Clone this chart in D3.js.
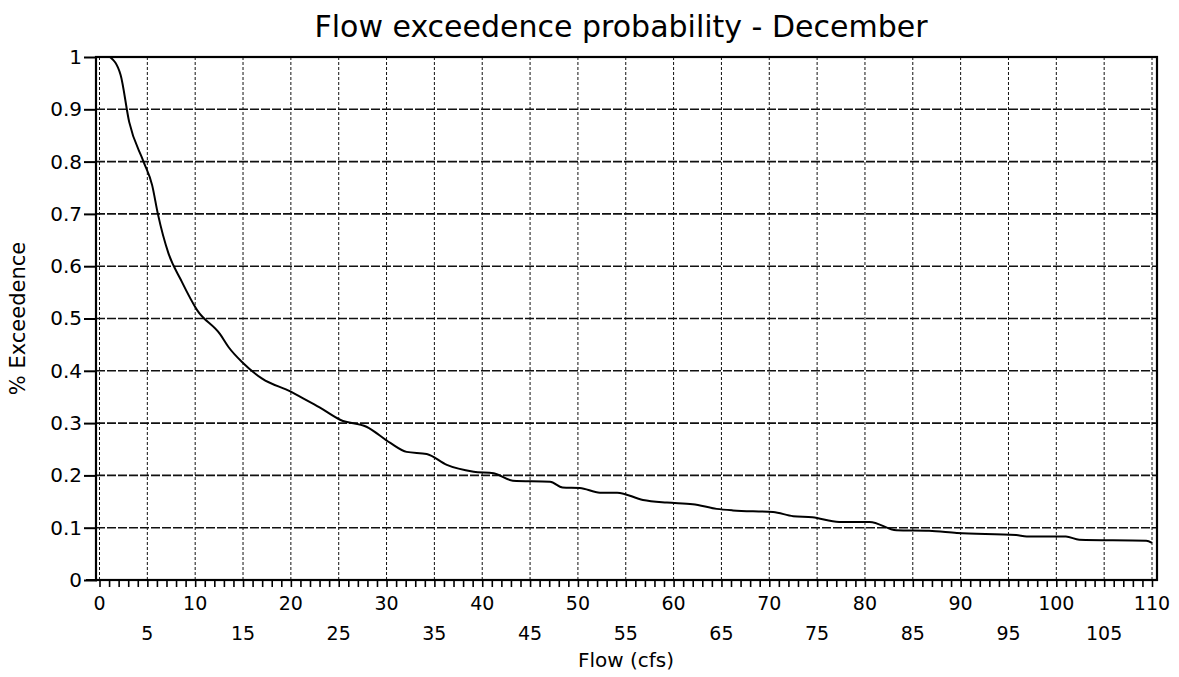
<!DOCTYPE html>
<html>
<head>
<meta charset="utf-8">
<script src="https://cdn.jsdelivr.net/npm/d3@7"></script>
<style>
  body { margin: 0; background: #fff; }
  svg { display: block; font-family: "DejaVu Sans", sans-serif; }
</style>
</head>
<body>
<div id="container"></div>
<script>
// chart values
const flowCfs = [1.1, 2.2, 3.1, 4.6, 5.5, 6.1, 7.2, 8.5, 10.2, 12.6, 13.5, 15, 17, 20, 21, 23,
  25.2, 27.9, 30.4, 32.1, 34.2, 36.3, 39.1, 41.2, 43.2, 47.1, 48.4, 50.2, 52.3, 54.1, 56.8,
  59.3, 62, 64.5, 66.2, 70.4, 72.5, 74.5, 77.3, 80.5, 83.3, 86.7, 89.6, 95.8, 96.9, 101,
  102.4, 109.4, 110];
const exceedence = [1, 0.966, 0.876, 0.80, 0.755, 0.70, 0.625, 0.574, 0.516, 0.47, 0.445, 0.415,
  0.385, 0.36, 0.35, 0.33, 0.306, 0.293, 0.262, 0.245, 0.241, 0.22, 0.207, 0.204, 0.19, 0.188,
  0.177, 0.176, 0.167, 0.167, 0.153, 0.148, 0.145, 0.136, 0.133, 0.13, 0.122, 0.12, 0.111,
  0.111, 0.095, 0.094, 0.09, 0.086, 0.083, 0.083, 0.077, 0.075, 0.071];

const yTicks = [0, 0.1, 0.2, 0.3, 0.4, 0.5, 0.6, 0.7, 0.8, 0.9, 1];
const xTicksEven = [0, 10, 20, 30, 40, 50, 60, 70, 80, 90, 100, 110];
const xTicksOdd = [5, 15, 25, 35, 45, 55, 65, 75, 85, 95, 105];

const chartTitle = 'Flow exceedence probability - December';
const xTitle = 'Flow (cfs)';
const yTitle = '% Exceedence';

const width = 1179, height = 677;

const x = d3.scaleLinear().domain([0, 110]).range([99.5, 1152]);
const y = d3.scaleLinear().domain([0, 1]).range([580, 57]);

const svg = d3.select('#container').append('svg')
  .attr('width', width)
  .attr('height', height);

// grid: vertical lines every 5 cfs
svg.append('g')
  .selectAll('line')
  .data(d3.range(0, 111, 5))
  .join('line')
  .attr('x1', d => x(d)).attr('x2', d => x(d))
  .attr('y1', y(1)).attr('y2', y(0))
  .attr('stroke', '#111')
  .attr('stroke-width', 1)
  .attr('stroke-dasharray', '3,2');

// grid: horizontal lines every 0.1
svg.append('g')
  .selectAll('line')
  .data(yTicks.slice(1, -1))
  .join('line')
  .attr('x1', 96).attr('x2', 1157)
  .attr('y1', d => y(d)).attr('y2', d => y(d))
  .attr('stroke', '#111')
  .attr('stroke-width', 1.6)
  .attr('stroke-dasharray', '9,2');

// frame
svg.append('rect')
  .attr('x', 96).attr('y', y(1))
  .attr('width', 1157 - 96).attr('height', y(0) - y(1))
  .attr('fill', 'none')
  .attr('stroke', '#000')
  .attr('stroke-width', 2.2);

// x axis: minor ticks every 1 cfs, pointing down
const xAxis = d3.axisBottom(x)
  .tickValues(d3.range(0, 111, 1))
  .tickSize(7)
  .tickFormat('');
const gx = svg.append('g')
  .attr('transform', `translate(0,${y(0)})`)
  .call(xAxis);
gx.select('.domain').attr('stroke-width', 2.2).attr('d', `M86,0H1157`);
gx.selectAll('.tick line').attr('stroke-width', 1.6);

// x tick labels, two staggered rows
svg.append('g')
  .selectAll('text')
  .data(xTicksEven)
  .join('text')
  .attr('x', d => x(d)).attr('y', 610)
  .attr('text-anchor', 'middle')
  .attr('font-size', 19)
  .text(d => d);

svg.append('g')
  .selectAll('text')
  .data(xTicksOdd)
  .join('text')
  .attr('x', d => x(d)).attr('y', 640)
  .attr('text-anchor', 'middle')
  .attr('font-size', 19)
  .text(d => d);

// y axis
const yAxis = d3.axisLeft(y)
  .tickValues(yTicks)
  .tickSize(13)
  .tickPadding(2)
  .tickFormat(d => d3.format('~g')(d));
const gy = svg.append('g')
  .attr('transform', 'translate(97,0)')
  .call(yAxis);
gy.select('.domain').remove();
gy.selectAll('.tick line').attr('stroke-width', 2);
gy.selectAll('.tick text')
  .attr('font-size', 20)
  .attr('font-family', '"DejaVu Sans", sans-serif')
  .attr('fill', '#000');

// exceedence curve
const line = d3.line()
  .x((d, i) => x(flowCfs[i]))
  .y(d => y(d))
  .curve(d3.curveMonotoneX);

svg.append('path')
  .datum(exceedence)
  .attr('d', line)
  .attr('fill', 'none')
  .attr('stroke', '#000')
  .attr('stroke-width', 2);

// titles
svg.append('text')
  .attr('x', 621).attr('y', 37)
  .attr('text-anchor', 'middle')
  .attr('font-size', 30)
  .text(chartTitle);

svg.append('text')
  .attr('x', 626).attr('y', 667)
  .attr('text-anchor', 'middle')
  .attr('font-size', 20)
  .text(xTitle);

svg.append('text')
  .attr('transform', `translate(25,${(y(0) + y(1)) / 2}) rotate(-90)`)
  .attr('text-anchor', 'middle')
  .attr('font-size', 21)
  .text(yTitle);
</script>
</body>
</html>
